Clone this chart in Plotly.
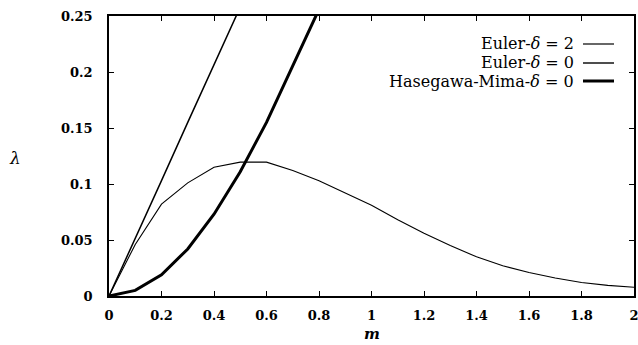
import plotly.graph_objects as go

m_vals = [0.0, 0.1, 0.2, 0.3, 0.4, 0.5, 0.6, 0.7, 0.8, 0.9, 1.0, 1.1, 1.2, 1.3, 1.4, 1.5, 1.6, 1.7, 1.8, 1.9, 2.0]

euler_d2_m = [0.0, 0.1, 0.2, 0.3, 0.4, 0.5]
euler_d2 = [0.0, 0.051, 0.103, 0.155, 0.206, 0.258]

euler_d0 = [0.0, 0.046, 0.082, 0.101, 0.115, 0.1195, 0.1195, 0.112, 0.103, 0.092, 0.081,
            0.068, 0.056, 0.045, 0.035, 0.027, 0.021, 0.016, 0.012, 0.0095, 0.0078]

hm_m = [0.0, 0.1, 0.2, 0.3, 0.4, 0.5, 0.6, 0.7, 0.8]
hm_d0 = [0.0, 0.005, 0.019, 0.042, 0.073, 0.111, 0.155, 0.205, 0.256]

x_ticks = [0, 0.2, 0.4, 0.6, 0.8, 1, 1.2, 1.4, 1.6, 1.8, 2]
x_tick_text = ["0", "0.2", "0.4", "0.6", "0.8", "1", "1.2", "1.4", "1.6", "1.8", "2"]
y_ticks = [0, 0.05, 0.1, 0.15, 0.2, 0.25]
y_tick_text = ["0", "0.05", "0.1", "0.15", "0.2", "0.25"]

legend_labels = ["Euler-<i>δ</i> = 2", "Euler-<i>δ</i> = 0", "Hasegawa-Mima-<i>δ</i> = 0"]
legend_widths = [1.2, 1.4, 3]

SERIF = "DejaVu Serif"

fig = go.Figure()
fig.add_trace(go.Scatter(x=euler_d2_m, y=euler_d2, mode="lines",
                         line=dict(color="black", width=1.5), showlegend=False))
fig.add_trace(go.Scatter(x=m_vals, y=euler_d0, mode="lines",
                         line=dict(color="black", width=1.1), showlegend=False))
fig.add_trace(go.Scatter(x=hm_m, y=hm_d0, mode="lines",
                         line=dict(color="black", width=3), showlegend=False))

axis_common = dict(
    showline=True, linecolor="black", linewidth=1.5, mirror="allticks",
    ticks="inside", ticklen=5, tickwidth=1.2, tickcolor="black",
    showgrid=False, zeroline=False, automargin=False, ticklabeloverflow="allow",
    tickfont=dict(family=SERIF, size=13, color="black", weight="bold"),
)

fig.update_xaxes(range=[0, 2], tickvals=x_ticks, ticktext=x_tick_text, **axis_common,
                 ticklabelstandoff=7)
fig.update_yaxes(range=[0, 0.25], tickvals=y_ticks, ticktext=y_tick_text, **axis_common,
                 ticklabelstandoff=12)

annotations = []
shapes = []
row_y = [44, 63, 81]
plot_left, plot_w = 109, 525
plot_top, plot_h = 16, 280
for lab, w, yy in zip(legend_labels, legend_widths, row_y):
    yp = 1 - (yy - plot_top) / plot_h
    annotations.append(dict(xref="paper", yref="paper", x=(576 - plot_left) / plot_w, y=yp,
                            xanchor="right", yanchor="middle", text=lab, showarrow=False,
                            font=dict(family=SERIF, size=16, color="black")))
    shapes.append(dict(type="line", xref="paper", yref="paper",
                       x0=(583 - plot_left) / plot_w, x1=(614 - plot_left) / plot_w,
                       y0=yp, y1=yp, line=dict(color="black", width=w)))

annotations.append(dict(xref="paper", yref="paper", x=(15 - plot_left) / plot_w,
                        y=1 - (158 - plot_top) / plot_h, xanchor="center",
                        yanchor="middle", text="<i>λ</i>", showarrow=False,
                        font=dict(family=SERIF, size=17, color="black")))
annotations.append(dict(xref="paper", yref="paper", x=0.5,
                        y=1 - (334 - plot_top) / plot_h, xanchor="center",
                        yanchor="middle", text="<i>m</i>", showarrow=False,
                        font=dict(family=SERIF, size=15, color="black", weight="bold")))

fig.update_layout(
    width=638, height=345,
    margin=dict(l=109, r=4, t=16, b=49),
    plot_bgcolor="white", paper_bgcolor="white",
    annotations=annotations, shapes=shapes, showlegend=False,
)

fig.write_html("out.html", config={"displayModeBar": False},
               post_script="document.body.style.margin='0';document.body.style.overflow='hidden';")
